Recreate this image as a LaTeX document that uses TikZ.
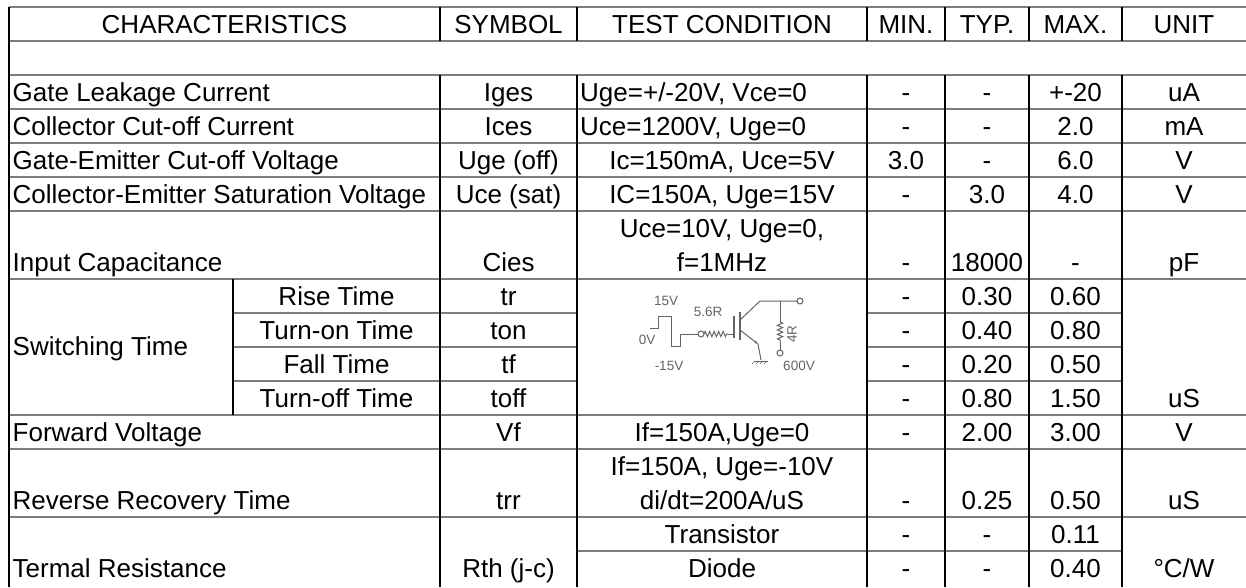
\documentclass[tikz,border=0pt]{standalone}
\usepackage{fontspec}
\setmainfont{Liberation Sans}
\usetikzlibrary{decorations.pathmorphing,arrows.meta}
\definecolor{hl}{RGB}{125,125,125}
\definecolor{sch}{RGB}{100,100,100}
\newcommand\tcell[4]{\node[tx] (#1) at (#2,{-(#3+9.3)}) {#4};}
\newcommand\tleft[4]{\node[tx,anchor=base west] (#1) at (#2,{-(#3+9.3)}) {#4};}
\begin{document}
\begin{tikzpicture}[x=1pt,y=1pt,
  tx/.style={inner sep=0pt,anchor=base,font=\fontsize{26}{30}\selectfont},
  hline/.style={draw=hl,line width=1.6pt},
  vline/.style={draw=black,line width=1.2pt},
  wire/.style={draw=sch,line width=1pt},
  plate/.style={draw=sch,line width=2.6pt},
  stx/.style={inner sep=0pt,text=sch,font=\fontsize{13.5}{14}\selectfont},
  zz/.style={wire,decorate,decoration={zigzag,amplitude=2.6pt,segment length=4.5pt}}]
\useasboundingbox (0,0) rectangle (1246,-587);
% horizontal lines
\foreach \yy in {7,41,75,109,143,177,211,279,415,449,517}
  \draw[hline] (9,-\yy) -- (1246,-\yy);
\foreach \yy in {313,347,381}{
  \draw[hline] (233,-\yy) -- (577,-\yy);
  \draw[hline] (867,-\yy) -- (1122,-\yy);}
\draw[hline] (577,-551) -- (1122,-551);
% vertical lines
\draw[vline] (9,-7) -- (9,-587);
\foreach \xx in {440,577,867,945,1029,1122}{
  \draw[vline] (\xx,-7) -- (\xx,-41);
  \draw[vline] (\xx,-75) -- (\xx,-587);}
\draw[vline] (233,-279) -- (233,-415);
% header
\tcell{h1}{224.5}{24}{CHARACTERISTICS}
\tcell{h2}{508.5}{24}{SYMBOL}
\tcell{h3}{722}{24}{TEST CONDITION}
\tcell{h4}{906}{24}{MIN.}
\tcell{h5}{987}{24}{TYP.}
\tcell{h6}{1075.5}{24}{MAX.}
\tcell{h7}{1184}{24}{UNIT}
% gate leakage
\tleft{a1}{12.5}{92}{Gate Leakage Current}
\tcell{a2}{508.5}{92}{Iges}
\tleft{a3}{580}{92}{Uge=+/-20V, Vce=0}
\tcell{a4}{906}{92}{-}
\tcell{a5}{987}{92}{-}
\tcell{a6}{1075.5}{92}{+-20}
\tcell{a7}{1184}{92}{uA}
% collector cut-off
\tleft{b1}{12.5}{126}{Collector Cut-off Current}
\tcell{b2}{508.5}{126}{Ices}
\tleft{b3}{580}{126}{Uce=1200V, Uge=0}
\tcell{b4}{906}{126}{-}
\tcell{b5}{987}{126}{-}
\tcell{b6}{1075.5}{126}{2.0}
\tcell{b7}{1184}{126}{mA}
% gate-emitter
\tleft{c1}{12.5}{160}{Gate-Emitter Cut-off Voltage}
\tcell{c2}{508.5}{160}{Uge (off)}
\tcell{c3}{722}{160}{Ic=150mA, Uce=5V}
\tcell{c4}{906}{160}{3.0}
\tcell{c5}{987}{160}{-}
\tcell{c6}{1075.5}{160}{6.0}
\tcell{c7}{1184}{160}{V}
% CE saturation
\tleft{d1}{12.5}{194}{Collector-Emitter Saturation Voltage}
\tcell{d2}{508.5}{194}{Uce (sat)}
\tcell{d3}{722}{194}{IC=150A, Uge=15V}
\tcell{d4}{906}{194}{-}
\tcell{d5}{987}{194}{3.0}
\tcell{d6}{1075.5}{194}{4.0}
\tcell{d7}{1184}{194}{V}
% input capacitance
\tcell{e0}{722}{228}{Uce=10V, Uge=0,}
\tleft{e1}{12.5}{262}{Input Capacitance}
\tcell{e2}{508.5}{262}{Cies}
\tcell{e3}{722}{262}{f=1MHz}
\tcell{e4}{906}{262}{-}
\tcell{e5}{987}{262}{18000}
\tcell{e6}{1075.5}{262}{-}
\tcell{e7}{1184}{262}{pF}
% switching
\tleft{f0}{12.5}{346}{Switching Time}
\tcell{f1}{336.5}{296}{Rise Time}
\tcell{f2}{508.5}{296}{tr}
\tcell{f3}{906}{296}{-}
\tcell{f4}{987}{296}{0.30}
\tcell{f5}{1075.5}{296}{0.60}
\tcell{g1}{336.5}{330}{Turn-on Time}
\tcell{g2}{508.5}{330}{ton}
\tcell{g3}{906}{330}{-}
\tcell{g4}{987}{330}{0.40}
\tcell{g5}{1075.5}{330}{0.80}
\tcell{i1}{336.5}{364}{Fall Time}
\tcell{i2}{508.5}{364}{tf}
\tcell{i3}{906}{364}{-}
\tcell{i4}{987}{364}{0.20}
\tcell{i5}{1075.5}{364}{0.50}
\tcell{j1}{336.5}{398}{Turn-off Time}
\tcell{j2}{508.5}{398}{toff}
\tcell{j3}{906}{398}{-}
\tcell{j4}{987}{398}{0.80}
\tcell{j5}{1075.5}{398}{1.50}
\tcell{j6}{1184}{398}{uS}
% forward voltage
\tleft{k1}{12.5}{432}{Forward Voltage}
\tcell{k2}{508.5}{432}{Vf}
\tcell{k3}{722}{432}{If=150A,Uge=0}
\tcell{k4}{906}{432}{-}
\tcell{k5}{987}{432}{2.00}
\tcell{k6}{1075.5}{432}{3.00}
\tcell{k7}{1184}{432}{V}
% reverse recovery
\tcell{l0}{722}{466}{If=150A, Uge=-10V}
\tleft{l1}{12.5}{500}{Reverse Recovery Time}
\tcell{l2}{508.5}{500}{trr}
\tcell{l3}{722}{500}{di/dt=200A/uS}
\tcell{l4}{906}{500}{-}
\tcell{l5}{987}{500}{0.25}
\tcell{l6}{1075.5}{500}{0.50}
\tcell{l7}{1184}{500}{uS}
% thermal
\tcell{m3}{722}{534}{Transistor}
\tcell{m4}{906}{534}{-}
\tcell{m5}{987}{534}{-}
\tcell{m6}{1075.5}{534}{0.11}
\tleft{n1}{12.5}{568}{Termal Resistance}
\tcell{n2}{508.5}{568}{Rth (j-c)}
\tcell{n3}{722}{568}{Diode}
\tcell{n4}{906}{568}{-}
\tcell{n5}{987}{568}{-}
\tcell{n6}{1075.5}{568}{0.40}
\tcell{n7}{1184}{568}{°C/W}
% switching test circuit
\draw[wire] (650,-328) -- (658,-328) -- (658,-316) -- (671,-316) -- (671,-346) -- (680,-346) -- (680,-334) -- (698,-334);
\draw[wire] (701,-334) circle (3);
\draw[zz] (704,-334) -- (728,-334);
\draw[wire] (728,-334) -- (734,-334);
\draw[plate] (734,-316) -- (734,-338);
\draw[plate] (740,-312) -- (740,-340);
\draw[wire] (740,-320) -- (760,-301) -- (797,-301);
\draw[wire] (800,-301) circle (3);
\draw[wire] (780,-301) -- (780,-322);
\draw[zz] (780,-322) -- (780,-341);
\draw[wire] (780,-341) -- (780,-350);
\draw[wire] (780,-353) circle (3);
\draw[wire,-{Stealth[length=4pt,width=3pt]}] (740,-330) -- (758,-344);
\draw[wire] (758,-344) -- (761,-360);
\draw[wire] (754,-361) -- (768,-361);
\foreach \gx in {755,759,763,767}
  \draw[wire,line width=0.6pt] (\gx,-361) -- ++(-3,-3);
\node[stx] (s15) at (666,-301) {15V};
\node[stx] (s56) at (708,-312) {5.6R};
\node[stx] (s0) at (647,-340) {0V};
\node[stx] (sm15) at (669,-366) {-15V};
\node[stx] (s600) at (799,-366) {600V};
\node[stx,rotate=90] (s4) at (792,-334) {4R};
\end{tikzpicture}
\end{document}
